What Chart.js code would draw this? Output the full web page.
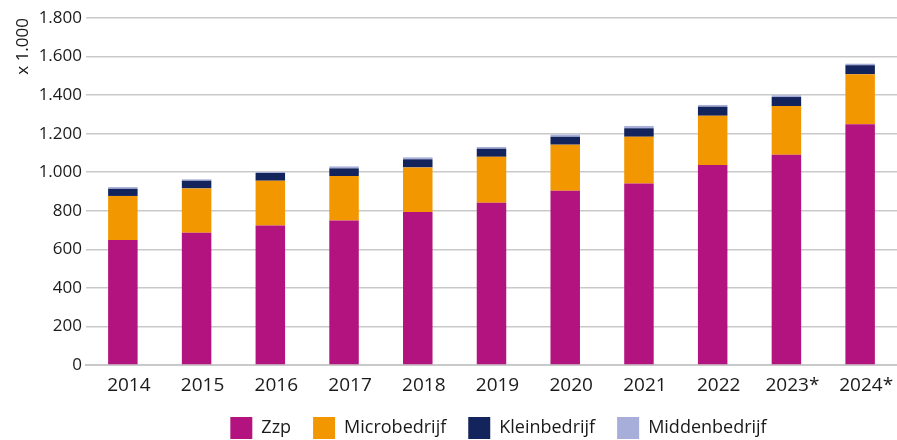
<!DOCTYPE html>
<html>
<head>
<meta charset="utf-8">
<script src="https://cdn.jsdelivr.net/npm/chart.js@4/dist/chart.umd.min.js"></script>
<style>
  html, body { margin: 0; padding: 0; background: #fff; }
  #wrap { width: 897px; height: 440px; position: relative; }
</style>
</head>
<body>
<div id="wrap"><canvas id="grafiek"></canvas></div>
<script>
// jaren (2023 en 2024 voorlopig)
const jaren = ['2014', '2015', '2016', '2017', '2018', '2019', '2020', '2021', '2022', '2023*', '2024*'];

// aantallen x 1.000
const zzp = [648, 686, 723, 749, 794, 842, 904, 942, 1037, 1091, 1249];
const micro = [229, 230, 233, 231, 231, 238, 239, 242, 256, 252, 259];
const klein = [37, 40, 40, 40, 42, 42, 41, 44, 47, 47, 47];
const midden = [9, 7, 5, 10, 10, 9, 11, 12, 9, 9, 8];

const kleuren = {
    zzp: '#b3137f',
    micro: '#f39700',
    klein: '#13235b',
    midden: '#a6aed9'
};

const fontNaam = '"Open Sans", "Noto Sans", sans-serif';
const tekstKleur = '#1a1a1a';
const rasterKleur = '#c9c9c9';

// getallen met punt als duizendtalscheiding
function nlGetal(v) {
    return String(v).replace(/\B(?=(\d{3})+(?!\d))/g, '.');
}

// legenda een paar pixels naar rechts, zoals in het origineel
const legendaVerschuiving = {
    id: 'legendaVerschuiving',
    beforeUpdate(chart) {
        const lg = chart.legend;
        if (lg && !lg._verschoven) {
            const tekenOrigineel = lg.draw.bind(lg);
            lg.draw = function () {
                chart.ctx.save();
                chart.ctx.translate(7, 0);
                tekenOrigineel();
                chart.ctx.restore();
            };
            lg._verschoven = true;
        }
    }
};

const ctx = document.getElementById('grafiek').getContext('2d');
const grafiek = new Chart(ctx, {
    type: 'bar',
    data: {
        labels: jaren,
        datasets: [
            { label: 'Zzp', data: zzp, backgroundColor: kleuren.zzp },
            { label: 'Microbedrijf', data: micro, backgroundColor: kleuren.micro },
            { label: 'Kleinbedrijf', data: klein, backgroundColor: kleuren.klein },
            { label: 'Middenbedrijf', data: midden, backgroundColor: kleuren.midden }
        ]
    },
    plugins: [legendaVerschuiving],
    options: {
        responsive: true,
        maintainAspectRatio: false,
        animation: false,
        datasets: {
            bar: { barPercentage: 1, categoryPercentage: 0.4, borderWidth: 0 }
        },
        // legenda zit tegen de onderrand aan
        layout: { padding: { top: 18, right: 0, left: 0, bottom: -9 } },
        plugins: {
            tooltip: { enabled: false },
            legend: {
                position: 'bottom',
                fullSize: false,
                labels: {
                    boxWidth: 22,
                    boxHeight: 22,
                    padding: 22,
                    color: tekstKleur,
                    font: { family: fontNaam, size: 18 }
                }
            }
        },
        scales: {
            x: {
                stacked: true,
                grid: { display: false, drawTicks: false },
                border: { color: rasterKleur, width: 2 },
                ticks: {
                    color: tekstKleur,
                    padding: 9,
                    labelOffset: 6,
                    maxRotation: 0,
                    autoSkip: false,
                    font: { family: fontNaam, size: 19 }
                },
                afterFit: (schaal) => { schaal.height = 30; }
            },
            y: {
                stacked: true,
                min: 0,
                max: 1800,
                grid: { color: rasterKleur, lineWidth: 1.6, drawTicks: false },
                border: { display: false },
                ticks: {
                    stepSize: 200,
                    padding: 4,
                    color: tekstKleur,
                    font: { family: fontNaam, size: 17 },
                    callback: (v) => nlGetal(v)
                },
                title: {
                    display: true,
                    text: 'x 1.000',
                    align: 'end',
                    color: tekstKleur,
                    padding: { top: 13, bottom: 0 },
                    font: { family: fontNaam, size: 17 }
                },
                afterFit: (schaal) => { schaal.width = 86; }
            }
        }
    }
});
</script>
</body>
</html>
